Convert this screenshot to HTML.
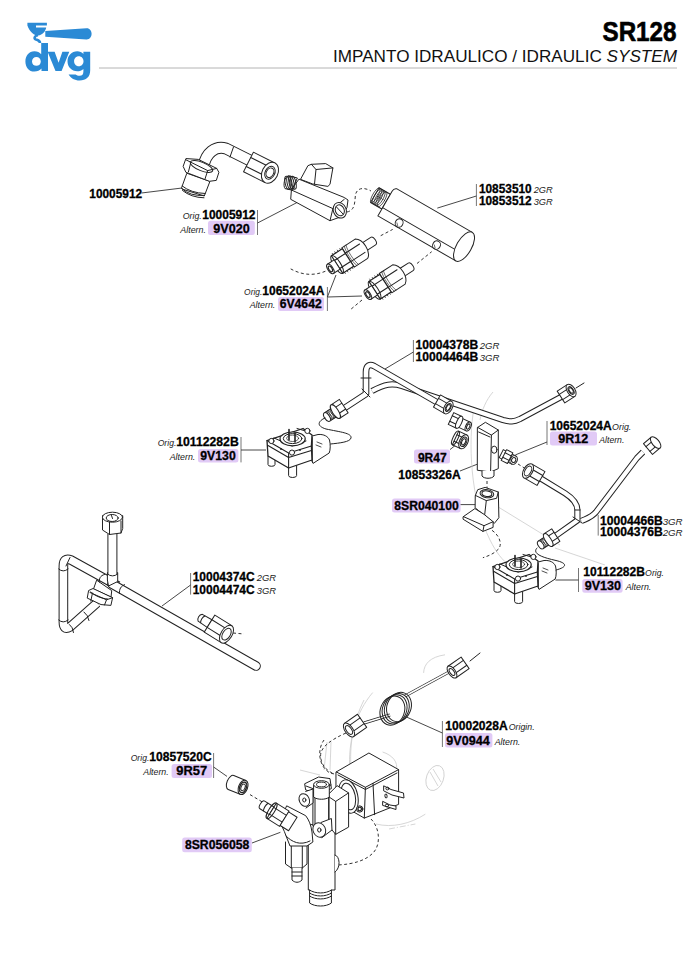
<!DOCTYPE html>
<html><head><meta charset="utf-8">
<style>
html,body{margin:0;padding:0;background:#fff;width:700px;height:965px;overflow:hidden}
svg{display:block}
.b{font-family:"Liberation Sans",sans-serif;font-weight:bold;font-size:12.6px;fill:#000;stroke:#000;stroke-width:0.3px}
.i{font-family:"Liberation Sans",sans-serif;font-style:italic;font-size:9.9px;fill:#1a1a1a}
.pb{fill:#e1caf6}
.bar{stroke:#777;stroke-width:1;fill:none}
.ld{stroke:#333;stroke-width:0.9;fill:none}
.p{stroke:#222;stroke-width:1;fill:#fff;stroke-linejoin:round;stroke-linecap:round}
.pn{stroke:#222;stroke-width:1;fill:none;stroke-linejoin:round;stroke-linecap:round}
.ds{stroke:#333;stroke-width:1;fill:none;stroke-dasharray:3 2.5}
.lt{stroke:#ccc;stroke-width:0.8;fill:none}
</style></head><body>
<svg width="700" height="965" viewBox="0 0 700 965">
<g id="logo" fill="#2b8ad5">
<!-- cup -->
<path d="M27.4,22.8 H46.9 V25.4 H36 V27.4 H46.2 C45.5,31.5 42.5,34.6 38.3,35.6 C34.5,35.4 29.5,32 27.4,25.4 Z"/>
<path d="M38,35.2 C34.6,35.6 33.8,38.3 35.6,39.3 C37.2,40.1 40,40.2 40,43" fill="none" stroke="#2b8ad5" stroke-width="2.6"/>
<!-- handle -->
<path d="M45.3,31.0 L86.5,28.2 C89.6,28.0 91.6,30.8 91.6,33.8 C91.6,36.9 89.5,39.6 86.4,39.4 L45.3,36.8 Z"/>
<!-- d -->
<path fill-rule="evenodd" d="M41.2,43 H48 V71 H41.5 V68.6 C39.8,70.6 37.4,71.6 34.4,71.6 C28.9,71.6 25.4,67.1 25.4,61.4 C25.4,55.7 28.9,51.2 34.4,51.2 C37.4,51.2 39.6,52.2 41.2,54.2 Z M36.4,57 C33.9,57 32,58.9 32,61.4 C32,63.9 33.9,65.8 36.4,65.8 C38.9,65.8 40.8,63.9 40.8,61.4 C40.8,58.9 38.9,57 36.4,57 Z"/>
<!-- v -->
<path d="M47.6,51.7 H54.6 L58.6,62.8 L62.4,51.7 H69.3 L61.6,71 H55.5 Z"/>
<!-- g -->
<path fill-rule="evenodd" d="M83.4,51.7 H90.2 V70.2 C90.2,76.9 86.2,80.4 79.6,80.4 C74.6,80.4 70.8,78.2 68.6,74.4 H75.6 C76.6,75.3 78,75.7 79.6,75.7 C82.3,75.7 83.4,74.2 83.4,71.2 V68.9 C81.8,70.6 79.6,71.3 77.3,71.3 C71.6,71.3 67.5,66.9 67.5,61.3 C67.5,55.7 71.6,51.3 77.3,51.3 C79.7,51.3 81.8,52.1 83.4,53.9 Z M78.8,56.3 C76.0,56.3 74.1,58.5 74.1,61.3 C74.1,64.1 76.0,66.3 78.8,66.3 C81.6,66.3 83.5,64.1 83.5,61.3 C83.5,58.5 81.6,56.3 78.8,56.3 Z"/>
</g>

<line x1="99" y1="68" x2="677" y2="68" stroke="#b4b4b4" stroke-width="1"/>
<text x="602.5" y="41" font-family="Liberation Sans" font-weight="bold" font-size="27" fill="#000" stroke="#000" stroke-width="0.6" textLength="74" lengthAdjust="spacingAndGlyphs">SR128</text>
<text x="333" y="62" font-family="Liberation Sans" font-size="16.5" fill="#111" textLength="344" lengthAdjust="spacingAndGlyphs">IMPANTO IDRAULICO / IDRAULIC <tspan font-style="italic">SYSTEM</tspan></text>
<rect class="pb" x="208.0" y="220.8" width="46.8" height="14.2" rx="2.5"/>
<rect class="pb" x="278.0" y="297.0" width="46.0" height="14.0" rx="2.5"/>
<rect class="pb" x="198.0" y="449.0" width="40.4" height="13.4" rx="2.5"/>
<rect class="pb" x="550.0" y="431.6" width="47.0" height="14.0" rx="2.5"/>
<rect class="pb" x="414.0" y="449.6" width="36.0" height="14.0" rx="2.5"/>
<rect class="pb" x="392.0" y="498.4" width="68.6" height="14.0" rx="2.5"/>
<rect class="pb" x="582.3" y="579.0" width="40.3" height="13.7" rx="2.5"/>
<rect class="pb" x="445.0" y="733.0" width="47.4" height="14.4" rx="2.5"/>
<rect class="pb" x="171.6" y="764.0" width="40.4" height="14.0" rx="2.5"/>
<rect class="pb" x="182.2" y="837.5" width="69.6" height="14.7" rx="2.5"/>
<line class="bar" x1="257.5" y1="210" x2="257.5" y2="235"/>
<line class="bar" x1="476.4" y1="184" x2="476.4" y2="206"/>
<line class="bar" x1="327.4" y1="287" x2="327.4" y2="311"/>
<line class="bar" x1="413.4" y1="340" x2="413.4" y2="362"/>
<line class="bar" x1="241" y1="437" x2="241" y2="462.4"/>
<line class="bar" x1="547" y1="421" x2="547" y2="445"/>
<line class="bar" x1="598.2" y1="515" x2="598.2" y2="535.6"/>
<line class="bar" x1="190.6" y1="573" x2="190.6" y2="594.6"/>
<line class="bar" x1="578.5" y1="568" x2="578.5" y2="592"/>
<line class="bar" x1="442.4" y1="721" x2="442.4" y2="747"/>
<line class="bar" x1="213.6" y1="753" x2="213.6" y2="778"/>
<text class="b" x="89.30" y="197.70" textLength="52.80" lengthAdjust="spacingAndGlyphs">10005912</text>
<text class="b" x="202.30" y="218.50" textLength="53.20" lengthAdjust="spacingAndGlyphs">10005912</text>
<text class="b" x="213.30" y="232.50" textLength="36.40" lengthAdjust="spacingAndGlyphs">9V020</text>
<text class="b" x="478.90" y="193.40" textLength="52.80" lengthAdjust="spacingAndGlyphs">10853510</text>
<text class="b" x="478.90" y="205.40" textLength="52.80" lengthAdjust="spacingAndGlyphs">10853512</text>
<text class="b" x="262.30" y="295.00" textLength="62.00" lengthAdjust="spacingAndGlyphs">10652024A</text>
<text class="b" x="279.70" y="308.00" textLength="42.00" lengthAdjust="spacingAndGlyphs">6V4642</text>
<text class="b" x="415.60" y="349.00" textLength="62.60" lengthAdjust="spacingAndGlyphs">10004378B</text>
<text class="b" x="415.60" y="361.40" textLength="62.60" lengthAdjust="spacingAndGlyphs">10004464B</text>
<text class="b" x="176.30" y="446.40" textLength="62.40" lengthAdjust="spacingAndGlyphs">10112282B</text>
<text class="b" x="200.30" y="460.40" textLength="35.40" lengthAdjust="spacingAndGlyphs">9V130</text>
<text class="b" x="549.70" y="429.60" textLength="62.00" lengthAdjust="spacingAndGlyphs">10652024A</text>
<text class="b" x="558.30" y="443.00" textLength="30.00" lengthAdjust="spacingAndGlyphs">9R12</text>
<text class="b" x="417.90" y="461.60" textLength="28.80" lengthAdjust="spacingAndGlyphs">9R47</text>
<text class="b" x="398.30" y="479.00" textLength="62.40" lengthAdjust="spacingAndGlyphs">10853326A</text>
<text class="b" x="394.30" y="510.00" textLength="64.40" lengthAdjust="spacingAndGlyphs">8SR040100</text>
<text class="b" x="599.90" y="524.50" textLength="62.80" lengthAdjust="spacingAndGlyphs">10004466B</text>
<text class="b" x="599.90" y="535.60" textLength="62.80" lengthAdjust="spacingAndGlyphs">10004376B</text>
<text class="b" x="192.70" y="581.20" textLength="62.00" lengthAdjust="spacingAndGlyphs">10004374C</text>
<text class="b" x="192.70" y="594.20" textLength="62.00" lengthAdjust="spacingAndGlyphs">10004474C</text>
<text class="b" x="583.30" y="576.40" textLength="61.70" lengthAdjust="spacingAndGlyphs">10112282B</text>
<text class="b" x="584.70" y="590.40" textLength="36.30" lengthAdjust="spacingAndGlyphs">9V130</text>
<text class="b" x="445.30" y="730.00" textLength="62.40" lengthAdjust="spacingAndGlyphs">10002028A</text>
<text class="b" x="446.30" y="744.50" textLength="43.40" lengthAdjust="spacingAndGlyphs">9V0944</text>
<text class="b" x="149.30" y="761.40" textLength="62.40" lengthAdjust="spacingAndGlyphs">10857520C</text>
<text class="b" x="176.30" y="775.40" textLength="30.80" lengthAdjust="spacingAndGlyphs">9R57</text>
<text class="b" x="184.90" y="849.10" textLength="64.50" lengthAdjust="spacingAndGlyphs">8SR056058</text>
<text class="i" x="182.70" y="218.50" textLength="19.10" lengthAdjust="spacingAndGlyphs">Orig.</text>
<text class="i" x="180.30" y="232.50" textLength="25.70" lengthAdjust="spacingAndGlyphs">Altern.</text>
<text class="i" x="533.70" y="193.40" textLength="19.00" lengthAdjust="spacingAndGlyphs">2GR</text>
<text class="i" x="533.70" y="205.40" textLength="19.00" lengthAdjust="spacingAndGlyphs">3GR</text>
<text class="i" x="244.10" y="295.00" textLength="18.20" lengthAdjust="spacingAndGlyphs">Orig.</text>
<text class="i" x="249.70" y="308.00" textLength="25.60" lengthAdjust="spacingAndGlyphs">Altern.</text>
<text class="i" x="479.70" y="349.00" textLength="19.60" lengthAdjust="spacingAndGlyphs">2GR</text>
<text class="i" x="479.70" y="361.40" textLength="19.60" lengthAdjust="spacingAndGlyphs">3GR</text>
<text class="i" x="157.70" y="446.40" textLength="18.60" lengthAdjust="spacingAndGlyphs">Orig.</text>
<text class="i" x="169.70" y="460.40" textLength="25.60" lengthAdjust="spacingAndGlyphs">Altern.</text>
<text class="i" x="612.10" y="429.60" textLength="19.20" lengthAdjust="spacingAndGlyphs">Orig.</text>
<text class="i" x="599.30" y="443.00" textLength="25.00" lengthAdjust="spacingAndGlyphs">Altern.</text>
<text class="i" x="662.70" y="524.50" textLength="19.90" lengthAdjust="spacingAndGlyphs">3GR</text>
<text class="i" x="662.70" y="535.60" textLength="19.90" lengthAdjust="spacingAndGlyphs">2GR</text>
<text class="i" x="256.70" y="581.20" textLength="19.30" lengthAdjust="spacingAndGlyphs">2GR</text>
<text class="i" x="256.70" y="594.20" textLength="19.30" lengthAdjust="spacingAndGlyphs">3GR</text>
<text class="i" x="645.10" y="576.40" textLength="18.90" lengthAdjust="spacingAndGlyphs">Orig.</text>
<text class="i" x="625.70" y="590.40" textLength="25.60" lengthAdjust="spacingAndGlyphs">Altern.</text>
<text class="i" x="508.70" y="730.00" textLength="26.00" lengthAdjust="spacingAndGlyphs">Origin.</text>
<text class="i" x="494.70" y="744.50" textLength="25.60" lengthAdjust="spacingAndGlyphs">Altern.</text>
<text class="i" x="130.70" y="761.40" textLength="18.60" lengthAdjust="spacingAndGlyphs">Orig.</text>
<text class="i" x="143.30" y="775.40" textLength="25.40" lengthAdjust="spacingAndGlyphs">Altern.</text>
<path class="ld" d="M141.5,193.0 L182.0,188.0" />
<path class="ld" d="M257.5,223.0 L298.0,202.0" />
<path class="ld" d="M437.3,208.1 L476.4,196.0" />
<path class="ld" d="M327.4,297.0 L336.0,275.0" />
<path class="ld" d="M327.4,297.0 L362.0,296.0" />
<path d="M203.5,166 C206,153 215,145.5 226,148.5 L250,160.5" fill="none" stroke="#222" stroke-width="12.0" stroke-linejoin="round" stroke-linecap="butt"/>
<path d="M203.5,166 C206,153 215,145.5 226,148.5 L250,160.5" fill="none" stroke="#fff" stroke-width="10.0" stroke-linejoin="round" stroke-linecap="butt"/>
<path class="pn" d="M233.5,147 L230,157" />
<g transform="translate(248.5,162.0) rotate(26.6) scale(1)">
<path class="p" d="M0,-11.0 L24.0,-11.0 L24.0,11.0 L0,11.0 Z"/>
<path class="pn" d="M0,-5.0 L24.0,-5.0 M0,5.0 L24.0,5.0"/>
<ellipse class="p" cx="24.0" cy="0" rx="7.9" ry="11.0"/>
<ellipse class="pn" cx="24.0" cy="0" rx="4.8" ry="6.8"/>
<ellipse class="pn" cx="24.0" cy="0" rx="3.6" ry="5.0"/>
</g>
<path class="p" d="M186.7,173.6 L181.6,187.7 L182.0,189.0 L204.3,196.0 L209.8,181.7 Z" />
<path class="pn" d="M181.8,188.5 Q190,196.5 204.3,195.4 M182.5,190.5 Q191,197.5 204,197.8" />
<path class="pn" d="M182.2,186 Q191,193 205,193.5" stroke-width="0.6"/>
<path class="p" d="M186.3,158.6 L198.3,159.4 L216.7,168.4 L218.9,172.3 L216.3,180.4 L209.4,181.3 L185.9,172.3 L183.3,166.7 Z" />
<path class="pn" d="M190.6,163.3 L188.4,171.9 M207.7,170.6 L205.1,178.7 M186.3,160 L207.7,170.6 L216.7,168.4" />
<ellipse class="pn" cx="201.5" cy="166.5" rx="12.0" ry="4.2" transform="rotate(22.0 201.5 166.5)" stroke-width="1.4"/>
<path class="p" d="M300.7,179 L307.9,165.7 L311.4,164.3 L325.7,163.6 L332.9,167.9 L330,184.3 L327.9,186.4 L313,184 Z" />
<path class="pn" d="M311.4,164.3 L316,169.5 L332.9,167.9 M316,169.5 L314.5,184" />
<path class="p" d="M299.3,179.3 L344.3,197.5 L348,200 L347,207.5 L342,216.4 L330,220.7 L290.7,199.3 L291.4,190 Z" />
<path class="pn" d="M291.4,190 L332.9,208.6 L344.3,199.3 M332.9,208.6 L330,220.7" />
<path class="p" d="M297,177.9 L288.6,175.7 C284,177 283,186 285,188.6 L291.4,190 Z" />
<ellipse class="pn" cx="287.5" cy="182.8" rx="2.4" ry="6.6" transform="rotate(-12.0 287.5 182.8)" stroke-width="0.7"/>
<ellipse class="pn" cx="289.5" cy="182.8" rx="2.4" ry="6.6" transform="rotate(-12.0 289.5 182.8)" stroke-width="0.7"/>
<ellipse class="pn" cx="291.5" cy="182.8" rx="2.4" ry="6.6" transform="rotate(-12.0 291.5 182.8)" stroke-width="0.7"/>
<ellipse class="pn" cx="293.5" cy="182.8" rx="2.4" ry="6.6" transform="rotate(-12.0 293.5 182.8)" stroke-width="0.7"/>
<ellipse class="p" cx="339.8" cy="210.3" rx="6.4" ry="8.0" transform="rotate(-22.0 339.8 210.3)" stroke-width="1.7"/>
<ellipse class="pn" cx="339.8" cy="210.3" rx="4.4" ry="5.6" transform="rotate(-22.0 339.8 210.3)" />
<path class="pn" d="M336.5,207.0 L343.0,214.0" stroke-width="0.6"/>
<g transform="translate(383.5,200.1) rotate(30.0) scale(1)">
<path class="p" d="M3,-8.5 L-10,-8.5 L-10,8.5 L3,8.5 Z" />
<ellipse class="pn" cx="-9.5" cy="0" rx="2.6" ry="8.5" style="stroke-width:0.7"/>
<ellipse class="pn" cx="-7.5" cy="0" rx="2.6" ry="8.5" style="stroke-width:0.7"/>
<ellipse class="pn" cx="-5.5" cy="0" rx="2.6" ry="8.5" style="stroke-width:0.7"/>
<ellipse class="pn" cx="-3.5" cy="0" rx="2.6" ry="8.5" style="stroke-width:0.7"/>
<ellipse class="pn" cx="-1.5" cy="0" rx="2.6" ry="8.5" style="stroke-width:0.7"/>
<path class="p" d="M6,-16.5 L93,-16.5 L93,16.5 L3,16.5 L3,-12 C3,-14 4,-16 6,-16.5 Z" />
<path class="pn" d="M3,7 L93,7" />
<ellipse class="p" cx="93" cy="0" rx="7.5" ry="16.5"/>
<ellipse class="p" cx="25" cy="12" rx="3.8" ry="4.3"/>
<ellipse class="p" cx="68.4" cy="12.4" rx="3.8" ry="4.3"/>
<path class="pn" d="M23,13 L25,15 M66.4,13.4 L68.4,15.4" style="stroke-width:0.6"/>
</g>
<path class="ds" d="M347,212 C357,210 354,198 356,193 C358,188 364,187 371,191" />
<g transform="translate(330.4,268.9) rotate(-33.0) scale(1)">
<path class="p" d="M40,-4.5 L51,-4.5 A2.5,4.5 0 0 1 51,4.5 L40,4.5 Z"/>
<path class="p" d="M21,-11.5 L37,-11.5 C41,-9 42,-5 42,0 C42,5 41,9 37,11.5 L21,11.5 Z"/>
<path class="pn" d="M21,-5 L38,-5 M21,5 L38,5"/>
<path class="pn" d="M24,-11.5 C22,-6 22,6 24,11.5 M26,-11.5 C24,-6 24,6 26,11.5" style="stroke-width:0.6"/>
<path class="p" d="M8,-10.5 L21,-10.5 L21,10.5 L8,10.5 Z" style="stroke-width:1.2"/>
<path class="pn" d="M8,-4.8 L21,-4.8 M8,4.8 L21,4.8" style="stroke-width:1.1"/>
<path class="pn" d="M10,-10.5 L10,-12 M13,-10.5 L13,-12 M16,-10.5 L16,-12 M19,-10.5 L19,-12 M10,10.5 L10,12 M13,10.5 L13,12 M16,10.5 L16,12 M19,10.5 L19,12" style="stroke-width:0.7"/>
<ellipse class="pn" cx="8" cy="0" rx="3.5" ry="10.5"/>
<path class="p" d="M0,-5.5 L8,-5.5 L8,5.5 L0,5.5 Z"/>
<ellipse class="p" cx="0" cy="0" rx="2.6" ry="5.5"/>
<ellipse class="pn" cx="0" cy="0" rx="1.6" ry="3.2" style="stroke-width:1.2"/>
</g>
<g transform="translate(367.9,294.6) rotate(-33.0) scale(1)">
<path class="p" d="M40,-4.5 L51,-4.5 A2.5,4.5 0 0 1 51,4.5 L40,4.5 Z"/>
<path class="p" d="M21,-11.5 L37,-11.5 C41,-9 42,-5 42,0 C42,5 41,9 37,11.5 L21,11.5 Z"/>
<path class="pn" d="M21,-5 L38,-5 M21,5 L38,5"/>
<path class="pn" d="M24,-11.5 C22,-6 22,6 24,11.5 M26,-11.5 C24,-6 24,6 26,11.5" style="stroke-width:0.6"/>
<path class="p" d="M8,-10.5 L21,-10.5 L21,10.5 L8,10.5 Z" style="stroke-width:1.2"/>
<path class="pn" d="M8,-4.8 L21,-4.8 M8,4.8 L21,4.8" style="stroke-width:1.1"/>
<path class="pn" d="M10,-10.5 L10,-12 M13,-10.5 L13,-12 M16,-10.5 L16,-12 M19,-10.5 L19,-12 M10,10.5 L10,12 M13,10.5 L13,12 M16,10.5 L16,12 M19,10.5 L19,12" style="stroke-width:0.7"/>
<ellipse class="pn" cx="8" cy="0" rx="3.5" ry="10.5"/>
<path class="p" d="M0,-5.5 L8,-5.5 L8,5.5 L0,5.5 Z"/>
<ellipse class="p" cx="0" cy="0" rx="2.6" ry="5.5"/>
<ellipse class="pn" cx="0" cy="0" rx="1.6" ry="3.2" style="stroke-width:1.2"/>
</g>
<path class="ds" d="M290.7,268.9 C300,274 312,277 326,271" />
<path class="ds" d="M362,300 L350,310" />
<path class="ds" d="M380.7,235.7 L392.7,229.4" />
<path class="ds" d="M417,263.5 L431.7,251.7" />
<path class="ld" d="M241.0,450.0 L266.0,450.0" />
<path class="ld" d="M413.4,352.0 L385.0,369.0" />
<path class="ld" d="M547.0,442.0 L515.4,454.9" />
<path class="ld" d="M450.0,449.6 L457.0,444.0" />
<path class="ld" d="M460.0,471.0 L477.0,464.3" />
<path class="ld" d="M460.6,504.6 L475.4,504.6" />
<path class="lt" d="M474,408 C468,440 470,500 490,540 C496,552 502,560 510,566" />
<path class="lt" d="M493,392 C486,400 482,410 480,420" />
<path class="lt" d="M498.9,507.4 L540,532.6 L560,545" />
<path class="lt" d="M555,548 L605,565" />
<path d="M372,391 C385,384 392,383 402,386 L503,420 C510,422 514,422 520,419 L561,397" fill="none" stroke="#222" stroke-width="6.2" stroke-linejoin="round" stroke-linecap="butt"/>
<path d="M372,391 C385,384 392,383 402,386 L503,420 C510,422 514,422 520,419 L561,397" fill="none" stroke="#fff" stroke-width="4.2" stroke-linejoin="round" stroke-linecap="butt"/>
<path d="M340.4,410.7 L366,394 L366,372 C366,365 370,364 374,366 L440,404" fill="none" stroke="#222" stroke-width="6.6" stroke-linejoin="round" stroke-linecap="butt"/>
<path d="M340.4,410.7 L366,394 L366,372 C366,365 370,364 374,366 L440,404" fill="none" stroke="#fff" stroke-width="4.6" stroke-linejoin="round" stroke-linecap="butt"/>
<path class="pn" d="M362,389 L370,397" />
<path class="pn" d="M361,378 L371,378" stroke-width="0.7"/>
<g transform="translate(437.0,401.0) rotate(30.0) scale(1)">
<path class="p" d="M0,-7.0 L13.0,-7.0 L13.0,7.0 L0,7.0 Z"/>
<path class="pn" d="M0,-3.1 L13.0,-3.1 M0,3.1 L13.0,3.1"/>
<ellipse class="p" cx="13.0" cy="0" rx="3.9" ry="7.0"/>
<ellipse class="pn" cx="13.0" cy="0" rx="2.3" ry="4.3"/>
<ellipse class="pn" cx="13.0" cy="0" rx="1.7" ry="3.1"/>
</g>
<g transform="translate(561.0,397.0) rotate(-33.0) scale(1)">
<path class="p" d="M0,-7.0 L12.0,-7.0 L12.0,7.0 L0,7.0 Z"/>
<path class="pn" d="M0,-3.1 L12.0,-3.1 M0,3.1 L12.0,3.1"/>
<ellipse class="p" cx="12.0" cy="0" rx="3.9" ry="7.0"/>
<ellipse class="pn" cx="12.0" cy="0" rx="2.3" ry="4.3"/>
<ellipse class="pn" cx="12.0" cy="0" rx="1.7" ry="3.1"/>
</g>
<path class="pn" d="M576,388 L584,383" stroke-width="0.6"/>
<g transform="translate(327.0,417.0) rotate(-33.0) scale(1)">
<path class="p" d="M0,-5 L10,-5 L10,5 L0,5 Z"/>
<ellipse class="pn" cx="2" cy="0" rx="2" ry="5" style="stroke-width:0.6"/>
<ellipse class="pn" cx="4" cy="0" rx="2" ry="5" style="stroke-width:0.6"/>
<ellipse class="pn" cx="6" cy="0" rx="2" ry="5" style="stroke-width:0.6"/>
<ellipse class="pn" cx="8" cy="0" rx="2" ry="5" style="stroke-width:0.6"/>
<ellipse class="p" cx="0" cy="0" rx="2.5" ry="5"/>
<path class="p" d="M10,-8 L20,-8 L20,8 L10,8 Z"/>
<path class="pn" d="M10,-3.5 L20,-3.5 M10,3.5 L20,3.5"/>
<ellipse class="p" cx="10" cy="0" rx="3" ry="8"/>
</g>
<path class="pn" d="M325,418 C318,421 316,426 326,429 C340,432 352,433 351,438 C350,442 340,443 330.5,444" stroke-width="0.7"/>
<defs><g id="press">
<path class="p" d="M268,456 L268,464.5 A3.5,1.8 0 0 0 275,464.5 L275,459"/>
<path class="p" d="M288.6,467 L288.6,475.5 A4,2 0 0 0 296.6,475.5 L296.6,465"/>
<path class="p" d="M310.3,436.5 L318,434.5 C324,434 328,436.5 329.5,440 C330.5,444 330.5,450 329.2,453 L313,463.4 L311.4,460 Z"/>
<path class="pn" d="M312.5,437.5 L312.5,462 M317,442 L322,444 M316,445 L321,447" style="stroke-width:0.8"/>
<path class="p" d="M267,440.6 L303,428.5 L312,435 L311.4,446 L312,460 L288.6,468 L268,456 Z" style="stroke-width:1.3"/>
<path class="pn" d="M267,440.6 L288.6,453 L311.4,446 M288.6,453 L288.6,468 M268,445.5 L288.6,457.5 L311.4,450.5" style="stroke-width:1.1"/>
<path class="pn" d="M274,438 L292,446 L306,441 M297,428.5 L309,432"/>
<ellipse class="p" cx="292.6" cy="438.9" rx="12.6" ry="6.9" style="stroke-width:1.2"/>
<ellipse class="pn" cx="292.6" cy="438.6" rx="9.3" ry="5"/>
<ellipse class="pn" cx="292.6" cy="438.3" rx="6" ry="3.2" style="stroke-width:0.7"/>
<path class="pn" d="M289,429.5 L289,440 M295,433 L295,442" style="stroke-width:1.6"/>
<circle class="p" cx="271.4" cy="441" r="2.6"/>
<circle class="p" cx="307.4" cy="430.9" r="2.6"/>
<circle class="p" cx="292" cy="452.6" r="2.6"/>
<circle cx="281" cy="449" r="0.9" fill="#222"/><circle cx="300" cy="450" r="0.9" fill="#222"/>
</g></defs>
<use href="#press"/>
<use href="#press" transform="translate(226,126)"/>
<path class="p" d="M477.7,427.4 L485.4,422.3 L498.3,430 L498.3,468.6 L490.6,472 L477.7,470.3 Z" />
<path class="pn" d="M477.7,427.4 L491.4,435.1 L498.3,430 M491.4,435.1 L490.6,472" />
<path class="pn" d="M478.6,432 L490,437" stroke-width="2"/>
<ellipse class="p" cx="494.2" cy="449.7" rx="2.8" ry="3.6" transform="rotate(0.0 494.2 449.7)" />
<path class="p" d="M482,471 L482,476 C484,479 492,479 494,476 L494,471" />
<g transform="translate(451.0,418.5) rotate(25.0) scale(1)">
<path class="p" d="M0,-6.5 L9,-6.5 L9,6.5 L0,6.5 Z"/>
<path class="pn" d="M0,-3 L9,-3 M0,3 L9,3"/>
<path class="p" d="M9,-4.8 L19,-4.8 L19,4.8 L9,4.8 Z"/>
<ellipse class="p" cx="9" cy="0" rx="2.5" ry="6.5"/>
<ellipse class="p" cx="19" cy="0" rx="2.6" ry="4.8"/>
<ellipse class="pn" cx="19" cy="0" rx="1.4" ry="2.8"/>
</g>
<g transform="translate(455.5,438.0) rotate(25.0) scale(1)">
<path class="p" d="M0,-7.5 L9,-7.5 L9,7.5 L0,7.5 Z"/>
<path class="pn" d="M0,-3.5 L9,-3.5 M0,3.5 L9,3.5"/>
<ellipse class="p" cx="9" cy="0" rx="4.2" ry="7.5"/>
<ellipse class="pn" cx="9" cy="0" rx="2.8" ry="5"/>
<ellipse class="pn" cx="9" cy="0" rx="1.8" ry="3.3"/>
<ellipse class="pn" cx="0" cy="0" rx="2.5" ry="7.5"/>
</g>
<g transform="translate(513.7,460.0) rotate(207.0) scale(1)">
<path class="p" d="M0,-4.5 L14,-4.5 L14,4.5 L0,4.5 Z"/>
<path class="p" d="M4,-6 L11,-6 L11,6 L4,6 Z"/>
<path class="pn" d="M4,-2.5 L11,-2.5 M4,2.5 L11,2.5"/>
<ellipse class="p" cx="0" cy="0" rx="3.5" ry="4.5"/>
<ellipse class="pn" cx="0" cy="0" rx="2" ry="2.6"/>
</g>
<path class="ds" d="M518,464 L526,469" />
<path class="ds" d="M487,481 L487,490" />
<path class="p" d="M475.4,495.4 L477.7,489.7 L485.1,487.4 L498.3,492 L498.9,517.7 L494.3,523.4 L484.6,515.4 L475.4,508 Z" />
<path class="pn" d="M475.4,495.4 L486.3,500.6 L496.6,498.3 L498.3,492 M486.3,500.6 L484.6,515.4" />
<ellipse class="pn" cx="486.9" cy="493.7" rx="6.9" ry="4.0" transform="rotate(8.0 486.9 493.7)" />
<ellipse class="pn" cx="486.9" cy="493.7" rx="5.0" ry="2.8" transform="rotate(8.0 486.9 493.7)" />
<path class="p" d="M463.4,516.6 L474.9,508.6 L484,514.3 L493.1,521.7 L493.1,527.4 L482.9,531.4 L463.4,519.4 Z" />
<path class="pn" d="M463.4,516.6 L484,525.7 L493.1,521.7 M484,525.7 L482.9,531.4" />
<path class="ds" d="M492,530.3 C500,536 502,544 498.9,548.6 C494,554 488,556 482.9,557.7" />
<path d="M540,478 L565.1,493.3 C574,499 577.4,504 577.4,510 L577.4,520.4 L554.3,536.7" fill="none" stroke="#222" stroke-width="6.2" stroke-linejoin="round" stroke-linecap="butt"/>
<path d="M540,478 L565.1,493.3 C574,499 577.4,504 577.4,510 L577.4,520.4 L554.3,536.7" fill="none" stroke="#fff" stroke-width="4.2" stroke-linejoin="round" stroke-linecap="butt"/>
<path d="M643,452 L637,458 L596,512 C592,517 588,518 581.4,521" fill="none" stroke="#222" stroke-width="6.2" stroke-linejoin="round" stroke-linecap="butt"/>
<path d="M643,452 L637,458 L596,512 C592,517 588,518 581.4,521" fill="none" stroke="#fff" stroke-width="4.2" stroke-linejoin="round" stroke-linecap="butt"/>
<path class="pn" d="M573,517 L582,523 M575,510 L580,510" stroke-width="0.8"/>
<g transform="translate(541.0,478.5) rotate(210.0) scale(1)">
<path class="p" d="M0,-8 L15,-8 L15,8 L0,8 Z"/>
<path class="pn" d="M0,-3.5 L15,-3.5 M0,3.5 L15,3.5"/>
<ellipse class="p" cx="15" cy="0" rx="4.5" ry="8"/>
<ellipse class="pn" cx="15" cy="0" rx="3" ry="5.4"/>
</g>
<g transform="translate(648.0,449.0) rotate(-40.0) scale(1)">
<path class="p" d="M0,-7.0 L10.0,-7.0 L10.0,7.0 L0,7.0 Z"/>
<path class="pn" d="M0,-3.1 L10.0,-3.1 M0,3.1 L10.0,3.1"/>
<ellipse class="p" cx="10.0" cy="0" rx="3.5" ry="7.0"/>
</g>
<g transform="translate(540.7,544.9) rotate(-33.0) scale(1)">
<path class="p" d="M0,-4.5 L9,-4.5 L9,4.5 L0,4.5 Z"/>
<ellipse class="pn" cx="2" cy="0" rx="2" ry="4.5" style="stroke-width:0.6"/>
<ellipse class="pn" cx="4" cy="0" rx="2" ry="4.5" style="stroke-width:0.6"/>
<ellipse class="pn" cx="6" cy="0" rx="2" ry="4.5" style="stroke-width:0.6"/>
<ellipse class="p" cx="0" cy="0" rx="2.5" ry="4.5"/>
<path class="p" d="M9,-7.5 L18,-7.5 L18,7.5 L9,7.5 Z"/>
<path class="pn" d="M9,-3.3 L18,-3.3 M9,3.3 L18,3.3"/>
<ellipse class="p" cx="9" cy="0" rx="2.8" ry="7.5"/>
</g>
<path class="pn" d="M537,548 C532,553 540,557 556,560.5 C567,563 568,567 556,570" stroke-width="0.7"/>
<path class="ld" d="M555.4,580.0 L578.5,580.0" />
<path class="ld" d="M190.6,585.0 L162.0,606.0" />
<path d="M97,603 L70,627 C65,630 63.4,627 63.4,622 L63.4,566 C63.4,560 66,558 71,560 L118,586" fill="none" stroke="#222" stroke-width="9.6" stroke-linejoin="round" stroke-linecap="butt"/>
<path d="M97,603 L70,627 C65,630 63.4,627 63.4,622 L63.4,566 C63.4,560 66,558 71,560 L118,586" fill="none" stroke="#fff" stroke-width="7.6" stroke-linejoin="round" stroke-linecap="butt"/>
<path class="pn" d="M58.7,569 Q63,573 68.1,569 M58.7,620 Q63,624 68.1,620 M69.5,624.5 Q73,627 73.5,632.5 M84,612 Q88,615 89,620.5" stroke-width="0.8"/>
<path class="pn" d="M70,557.5 L66,566" stroke-width="0.8"/>
<path d="M112,584 L256,666" fill="none" stroke="#222" stroke-width="9.6" stroke-linecap="round"/>
<path d="M112,584 L256,666" fill="none" stroke="#fff" stroke-width="7.6" stroke-linecap="round"/>
<path class="p" d="M107.4,573 L107.4,580 L108.5,586 L117.7,581.5 L117.7,573 Z" />
<path class="pn" d="M107.4,574 Q112.5,578 117.7,574" stroke-width="1.3"/>
<path class="pn" d="M104.5,574.5 C100,575.5 98.8,579 99.4,583" />
<path class="pn" d="M119.5,593.5 C119,589 121,586 124.6,584.7" stroke-width="1.4"/>
<path d="M112.4,574 L112.4,534" fill="none" stroke="#222" stroke-width="10.0" stroke-linejoin="round" stroke-linecap="butt"/>
<path d="M112.4,574 L112.4,534" fill="none" stroke="#fff" stroke-width="8.0" stroke-linejoin="round" stroke-linecap="butt"/>
<path class="p" d="M102.5,516 L102.5,530 L109.5,534.5 L121,533 L122.7,528.5 L122.7,516 Z" />
<path class="pn" d="M109.5,522 L109.5,534.5 M121,521 L121,533" />
<ellipse class="p" cx="112.5" cy="517.2" rx="10.1" ry="5.0" transform="rotate(0.0 112.5 517.2)" stroke-width="1.2"/>
<ellipse class="pn" cx="112.2" cy="518.0" rx="6.0" ry="3.5" transform="rotate(0.0 112.2 518.0)" stroke-width="1.1"/>
<path class="pn" d="M111.5,515.5 L112.5,518.5" stroke-width="0.6"/>
<path class="p" d="M96.5,580.5 L93.5,589 L111,597 L111.7,591 Z" />
<path class="p" d="M87.3,597.7 L88.6,590.5 L93,588.5 L112.6,597.7 L110.9,605.4 L101.4,604.6 Z" />
<path class="pn" d="M90,592.5 L106.5,599.8 L112.6,597.7 M92.5,593 L90.8,601 M106.5,599.8 L104.5,605" />
<path class="pn" d="M90.5,592 C96,596.5 102,598.5 107.5,599" stroke-width="1.6"/>
<g transform="translate(207.0,622.0) rotate(32.0) scale(1)">
<path class="p" d="M-8,-4 L3,-4.5 L3,4.5 L-8,4 C-10.5,2 -10.5,-2 -8,-4 Z"/>
<path class="pn" d="M-5,-4 C-6.5,-2 -6.5,2 -5,4"/>
<path class="p" d="M3,-10 L23,-10 L23,10 L3,10 Z"/>
<path class="pn" d="M3,-4.5 L23,-4.5 M3,4.5 L23,4.5"/>
<ellipse class="p" cx="23" cy="0" rx="5.5" ry="10"/>
<ellipse class="pn" cx="23" cy="0" rx="3.8" ry="6.5"/>
</g>
<path class="ds" d="M233,633 L244,634" />
<path class="lt" d="M423.6,672.9 C424,664 430,657 445,654.8" />
<path class="lt" d="M372.7,692.6 C356,712 348,740 349.7,771.4" />
<path class="lt" d="M364,700 C353,722 348,748 352,778" />
<path class="lt" d="M376,824 C392,828 410,824 425.3,814.2" />
<ellipse class="lt" cx="435.0" cy="778.0" rx="8.5" ry="13.0" transform="rotate(20.0 435.0 778.0)" />
<path class="lt" d="M430,772 L438,786 M433,769 L441,782" />
<path class="lt" d="M382.6,752 C392,755 399,762 396,771" />
<path class="lt" d="M389,829 L415.4,824" stroke-dasharray="6 2 1 2"/>
<path class="lt" d="M320,775 L300,770" />
<path class="lt" d="M327,742 L324,770 M331,742 L330,770" />
<path class="ld" d="M252.0,843.0 L280.4,832.3" />
<path class="ld" d="M213.6,767.0 L227.0,776.4" />
<path class="ld" d="M406.7,717.1 L442.4,733.0" />
<path class="ds" d="M324,740 C318,748 318,762 326,770 C329,773 332,774 336,774" />
<path class="ds" d="M346,733 C330,740 320,748 320.6,756 C321,765 326,770 333.4,773.7" />
<path class="ds" d="M371,819 C380,828 381,845 373,853 C366,860 355,864 338,865" stroke-dasharray="5 2 1 2"/>
<path d="M449,672 L405,696" fill="none" stroke="#222" stroke-width="3.0" stroke-linejoin="round" stroke-linecap="butt"/>
<path d="M449,672 L405,696" fill="none" stroke="#fff" stroke-width="1.6" stroke-linejoin="round" stroke-linecap="butt"/>
<path d="M390,715 L364,723" fill="none" stroke="#222" stroke-width="3.0" stroke-linejoin="round" stroke-linecap="butt"/>
<path d="M390,715 L364,723" fill="none" stroke="#fff" stroke-width="1.6" stroke-linejoin="round" stroke-linecap="butt"/>
<path class="pn" d="M470,661 L480,653" stroke-width="0.7"/>
<ellipse class="pn" cx="399.0" cy="707.0" rx="12.0" ry="15.0" transform="rotate(22.0 399.0 707.0)" stroke-width="0.6"/>
<ellipse class="pn" cx="396.8" cy="708.2" rx="12.0" ry="15.0" transform="rotate(22.0 396.8 708.2)" stroke-width="0.6"/>
<ellipse class="pn" cx="394.6" cy="709.4" rx="12.0" ry="15.0" transform="rotate(22.0 394.6 709.4)" stroke-width="0.6"/>
<ellipse class="pn" cx="392.4" cy="710.6" rx="12.0" ry="15.0" transform="rotate(22.0 392.4 710.6)" stroke-width="0.6"/>
<g transform="translate(452.0,672.0) rotate(-35.0) scale(1)">
<path class="p" d="M0,-7 L16,-7 L16,7 L0,7 Z"/>
<path class="pn" d="M0,-3 L16,-3 M0,3 L16,3"/>
<ellipse class="p" cx="0" cy="0" rx="3.5" ry="7"/>
<ellipse class="pn" cx="0" cy="0" rx="2" ry="4"/>
</g>
<g transform="translate(349.0,730.0) rotate(-35.0) scale(1)">
<path class="p" d="M0,-8 L16,-8 L16,8 L0,8 Z"/>
<path class="pn" d="M0,-3.5 L16,-3.5 M0,3.5 L16,3.5"/>
<ellipse class="p" cx="0" cy="0" rx="4" ry="8"/>
<ellipse class="pn" cx="0" cy="0" rx="2.5" ry="5"/>
</g>
<g transform="translate(231.0,782.5) rotate(22.0) scale(1)">
<path class="p" d="M0,-7.5 L13,-7.5 L13,7.5 L0,7.5 A4,7.5 0 0 1 0,-7.5 Z"/>
<ellipse class="p" cx="13" cy="0" rx="4.5" ry="7.5"/>
<ellipse class="pn" cx="13" cy="0" rx="3.3" ry="5.5" style="stroke-width:1.4"/>
<ellipse class="pn" cx="13" cy="0" rx="2" ry="3.5"/>
</g>
<path class="ds" d="M250,794.6 L262.2,801.9" />
<path class="p" d="M336.3,771.9 L368.9,753 L398.6,769.6 L398.6,804.4 L364.3,818.1 L336.3,802 Z" />
<path class="pn" d="M336.3,771.9 L365.4,787.3 L398.6,769.6 M365.4,787.3 L364.3,818.1 M373,783.3 L374.6,814.7" />
<path class="pn" d="M338,775 L365.4,789.5 L397,773" stroke-width="0.6"/>
<path class="p" d="M384,786 L391,789.5 L403.5,793 L404,798 L392,795 L384,791 Z" />
<path class="p" d="M383,801.5 L390,805 L396,806 L396,809.5 L383,805.5 Z" />
<ellipse class="pn" cx="387.5" cy="788.5" rx="1.6" ry="1.4" transform="rotate(0.0 387.5 788.5)" stroke-width="1.4"/>
<ellipse class="pn" cx="386.0" cy="796.0" rx="1.1" ry="1.9" transform="rotate(-10.0 386.0 796.0)" stroke-width="1.2"/>
<ellipse class="pn" cx="387.0" cy="805.5" rx="1.6" ry="1.4" transform="rotate(0.0 387.0 805.5)" stroke-width="1.4"/>
<ellipse class="p" cx="348.3" cy="796.5" rx="9.5" ry="17.0" transform="rotate(-12.0 348.3 796.5)" />
<ellipse class="pn" cx="348.3" cy="796.5" rx="7.0" ry="13.5" transform="rotate(-12.0 348.3 796.5)" />
<circle class="p" cx="359.7" cy="809" r="3.2"/><circle class="pn" cx="359.7" cy="809" r="1.8" style="stroke-width:1.3"/>
<path class="p" d="M308.3,825 L308.3,890 L309.6,890 L309.6,903 C315,907 326,907 331.4,903 L331.4,890 L335,890 L335,825 Z" />
<path class="pn" d="M309.6,890 C315,894 326,894 331.4,890" />
<path class="pn" d="M309.6,893 C315,897 326,897 331.4,893 M309.6,896 C315,900 326,900 331.4,896" stroke-width="0.6"/>
<path class="p" d="M335,855 C340,856 341,868 335,872" />
<path class="p" d="M327.1,795.7 L337.1,785.7 L348.6,792.9 L348.6,827.1 L335.7,834.3 L327.1,824.3 Z" />
<path class="pn" d="M327.1,795.7 L335.7,801.4 L348.6,792.9 M335.7,801.4 L335.7,834.3" />
<path class="pn" d="M329,797 L329,825" stroke-width="0.6"/>
<path class="p" d="M312.9,790 L312.9,826 L328.6,826 L328.6,790 Z" />
<path class="pn" d="M315,795 L315,826" stroke-width="0.6"/>
<path class="p" d="M305,783.6 L318.6,777 L330,778.6 L331.4,788.6 L318,794 L306,790 Z" />
<path class="pn" d="M306,786 L318,790.5 L331,785" stroke-width="0.7"/>
<path class="p" d="M313.6,785 L313.6,797 C317,800 326,800 329.3,797 L329.3,785" />
<ellipse class="p" cx="321.5" cy="784.5" rx="7.9" ry="3.8" transform="rotate(0.0 321.5 784.5)" stroke-width="1.2"/>
<ellipse class="pn" cx="321.5" cy="784.5" rx="5.0" ry="2.4" transform="rotate(0.0 321.5 784.5)" />
<path class="p" d="M305.7,791.4 L313,789 L313,803 L306,808" />
<ellipse class="p" cx="304.3" cy="800.0" rx="5.0" ry="6.6" transform="rotate(-25.0 304.3 800.0)" />
<ellipse class="pn" cx="304.3" cy="800.0" rx="1.6" ry="2.0" transform="rotate(0.0 304.3 800.0)" />
<path class="p" d="M321,822.5 L331.4,818.5 L332,830 L322,837.5" />
<ellipse class="p" cx="319.3" cy="830.0" rx="6.2" ry="7.5" transform="rotate(-25.0 319.3 830.0)" />
<ellipse class="pn" cx="319.3" cy="830.0" rx="1.7" ry="2.1" transform="rotate(0.0 319.3 830.0)" />
<path class="p" d="M285.5,842 L285.5,864 L291.3,868 L302.3,868 L307,864 L307,844" />
<path class="pn" d="M291.3,846 L291.3,868 M302.3,846 L302.3,868" stroke-width="0.7"/>
<path class="p" d="M292,868 L292,880 C295,883 299,883 302,880 L302,868" />
<path class="pn" d="M292,872 L302,872 M292,876 L302,876" stroke-width="0.7"/>
<path class="p" d="M287,806 L305.7,815.7 C309,820 311,825 312,832 L312.9,842 L307,846 L290,846 L284.3,831.4 L280,822 Z" />
<path class="pn" d="M286,836 C292,842 300,846 310,841" />
<g transform="translate(264.0,806.0) rotate(32.0) scale(1)">
<path class="p" d="M-2,-4.5 L9,-4.5 L9,4.5 L-2,4.5 A2.2,4.5 0 0 1 -2,-4.5 Z"/>
<path class="pn" d="M2,-4.5 C1,-2 1,2 2,4.5"/>
<path class="p" d="M9,-9 L24,-9 L24,9 L9,9 Z"/>
<path class="pn" d="M9,-4 L24,-4 M9,4 L24,4"/>
<ellipse class="pn" cx="9" cy="0" rx="3" ry="9"/>
<path class="p" d="M24,-8 L34,-8 L34,8 L24,8 Z"/>
</g>
</svg>
</body></html>
